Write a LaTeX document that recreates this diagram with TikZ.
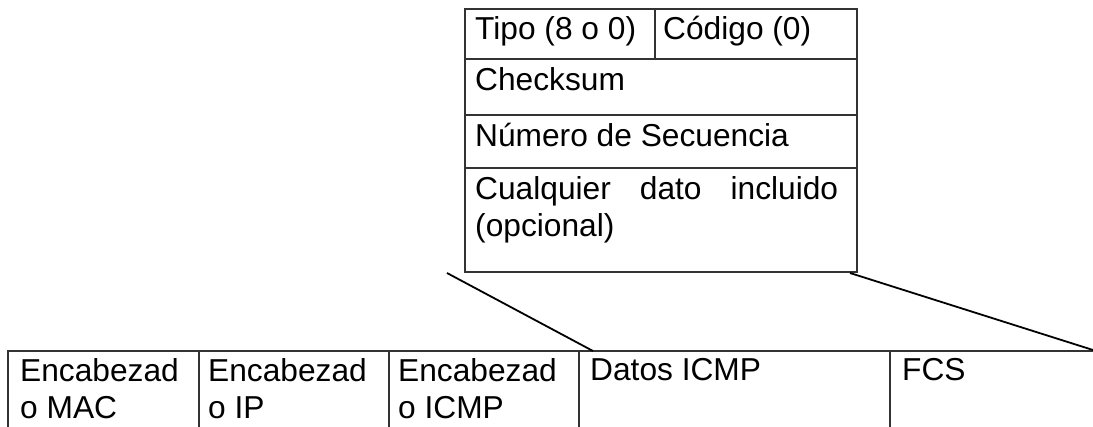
\documentclass[tikz,border=0pt]{standalone}
\usepackage{fontspec}
\setmainfont{Liberation Sans}
\begin{document}
\begin{tikzpicture}[x=1pt,y=-1pt,
  cell/.style={draw=black!80, line width=1.4pt, inner sep=0pt, outer sep=0pt, anchor=north west},
  txt/.style={inner sep=0pt, anchor=north west, align=left, text=black, font=\fontsize{31.7}{37}\selectfont},
  link/.style={line width=1.8pt, black}]
\clip (0,0) rectangle (1093,426);

% ICMP message fields
\node[cell, minimum width=190pt, minimum height=50pt]  (tipo)     at (465,9)   {};
\node[cell, minimum width=202pt, minimum height=50pt]  (codigo)   at (655,9)   {};
\node[cell, minimum width=392pt, minimum height=56pt]  (checksum) at (465,59)  {};
\node[cell, minimum width=392pt, minimum height=53pt]  (numero)   at (465,115) {};
\node[cell, minimum width=392pt, minimum height=104pt] (datos)    at (465,168) {};

\node[txt] (ttipo)   at ([xshift=10pt,yshift=-7pt]tipo.north west)     {Tipo (8 o 0)};
\node[txt] (tcodigo) at ([xshift=8pt,yshift=-7pt]codigo.north west)    {Código (0)};
\node[txt] (tcheck)  at ([xshift=10pt,yshift=-8pt]checksum.north west) {Checksum};
\node[txt] (tnum)    at ([xshift=10pt,yshift=-8pt]numero.north west)   {Número de Secuencia};
\node[txt] (tdatos)  at ([xshift=10pt,yshift=-8pt]datos.north west)
  {\hbox to 363pt{Cualquier\hfill dato\hfill incluido}\\(opcional)};

% Frame fields
\node[cell, minimum width=191pt, minimum height=110pt] (mac)   at (8,351)   {};
\node[cell, minimum width=190pt, minimum height=110pt] (ip)    at (199,351) {};
\node[cell, minimum width=190pt, minimum height=110pt] (icmp)  at (389,351) {};
\node[cell, minimum width=311pt, minimum height=110pt] (dicmp) at (579,351) {};
\node[cell, minimum width=230pt, minimum height=110pt] (fcs)   at (890,351) {};

\node[txt] (tmac)   at ([xshift=12pt,yshift=-7pt]mac.north west)   {Encabezad\\o MAC};
\node[txt] (tip)    at ([xshift=9pt,yshift=-7pt]ip.north west)     {Encabezad\\o IP};
\node[txt] (ticmp)  at ([xshift=9pt,yshift=-7pt]icmp.north west)   {Encabezad\\o ICMP};
\node[txt] (tdicmp) at ([xshift=11pt,yshift=-7pt]dicmp.north west) {Datos ICMP};
\node[txt] (tfcs)   at ([xshift=12pt,yshift=-7pt]fcs.north west)   {FCS};

% Expansion lines
\coordinate (la) at ([xshift=-18pt,yshift=-1pt]datos.south west);
\coordinate (lb) at ([xshift=14pt]dicmp.north west);
\coordinate (ra) at ([xshift=-7pt,yshift=-1pt]datos.south east);
\coordinate (rb) at ([xshift=203pt,yshift=1pt]fcs.north west);
\draw[link] (la) -- (lb);
\draw[link] (ra) -- (rb);
\end{tikzpicture}
\end{document}
